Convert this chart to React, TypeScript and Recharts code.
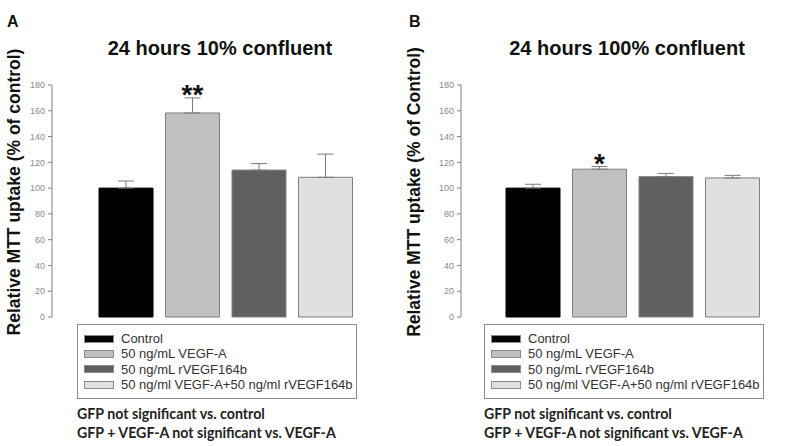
import React from "react";
import { BarChart, Bar, XAxis, YAxis, Cell, ErrorBar, LabelList } from "recharts";

// treatment groups (same in both panels)
const categories = ["Control", "50 ng/mL VEGF-A", "50 ng/mL rVEGF164b", "50 ng/ml VEGF-A+50 ng/ml rVEGF164b"];
const barColors = ["#000000", "#c0c0c0", "#606060", "#e0e0e0"];

// panel A: 24 h, 10% confluent
const sparseMeans = [100, 158.3, 114, 108.4];
const sparseErrors = [5.5, 11.7, 5, 18];
const sparseSig = ["", "**", "", ""];

// panel B: 24 h, 100% confluent
const denseMeans = [100, 114.7, 108.9, 107.9];
const denseErrors = [3, 2, 2.5, 2];
const denseSig = ["", "*", "", ""];

const yTicks = [0, 20, 40, 60, 80, 100, 120, 140, 160, 180];

const notes = ["GFP not significant vs. control", "GFP + VEGF-A not significant vs. VEGF-A"];

const buildRows = (means: number[], errs: number[], sig: string[]) =>
  categories.map((name, i) => ({ name, value: means[i], err: [0, errs[i]], sig: sig[i] }));

const sans = "'Liberation Sans', Arial, sans-serif";

function Panel({ data, left, width, padLeft, sigOffset }: any) {
  return (
    <div style={{ position: "absolute", left, top: 0 }}>
      <BarChart width={width} height={446} data={data} margin={{ top: 85, right: 15, bottom: 129, left: 0 }}>
        <XAxis
          dataKey="name"
          tick={false}
          tickLine={false}
          height={0}
          axisLine={{ stroke: "#808080" }}
          padding={{ left: padLeft, right: 26 }}
        />
        <YAxis
          width={52}
          domain={[0, 180]}
          ticks={yTicks}
          interval={0}
          tickSize={4}
          tickMargin={3}
          axisLine={{ stroke: "#808080" }}
          tickLine={{ stroke: "#808080" }}
          tick={{ fontSize: 9, fill: "#8a8a8a", fontFamily: sans }}
        />
        <Bar dataKey="value" barSize={54} stroke="#808080" isAnimationActive={false}>
          {data.map((d: any, i: number) => (
            <Cell key={d.name} fill={barColors[i]} stroke={i === 0 ? "#000" : "#808080"} />
          ))}
          <ErrorBar dataKey="err" width={8} stroke="#7a7a7a" strokeWidth={1} direction="y" />
          <LabelList
            dataKey="sig"
            position="top"
            offset={sigOffset}
            style={{ fontSize: 28, fontWeight: 700, fill: "#111", fontFamily: sans }}
          />
        </Bar>
      </BarChart>
    </div>
  );
}

function LegendBox({ left }: any) {
  return (
    <div
      style={{
        position: "absolute",
        left,
        top: 324,
        width: 278,
        height: 73,
        border: "1px solid #8a8a8a",
      }}
    >
      {categories.map((c, i) => (
        <div
          key={c}
          style={{
            position: "absolute",
            left: 6,
            top: 6 + i * 15.3,
            height: 15.3,
            display: "flex",
            alignItems: "center",
            fontFamily: sans,
            fontSize: 13,
            color: "#333",
            whiteSpace: "nowrap",
          }}
        >
          <span
            style={{
              display: "inline-block",
              width: 28,
              height: 6,
              background: barColors[i],
              border: "1px solid #8a8a8a",
              marginRight: 7,
            }}
          />
          {c}
        </div>
      ))}
    </div>
  );
}

function Notes({ left }: any) {
  return (
    <>
      {notes.map((n, i) => (
        <div
          key={n}
          style={{
            position: "absolute",
            left,
            top: 405 + i * 19,
            fontFamily: "Lato, 'Open Sans', sans-serif",
            fontWeight: 700,
            fontSize: 14.2,
            color: "#222",
            whiteSpace: "nowrap",
            lineHeight: "18px",
          }}
        >
          {n}
        </div>
      ))}
    </>
  );
}

export default function App() {
  const sparse = buildRows(sparseMeans, sparseErrors, sparseSig);
  const dense = buildRows(denseMeans, denseErrors, denseSig);
  return (
    <div style={{ position: "absolute", left: 0, top: 0, width: 800, height: 446, background: "#fff", overflow: "hidden" }}>
      <Panel data={sparse} left={0} width={400} padLeft={41} sigOffset={9} />
      <Panel data={dense} left={409} width={398} padLeft={39} sigOffset={-4} />
      <svg width={800} height={446} style={{ position: "absolute", left: 0, top: 0, pointerEvents: "none" }}>
        <g fontFamily={sans} fontWeight={700} fill="#111">
          <text x={7} y={27} fontSize={16}>A</text>
          <text x={409} y={27} fontSize={16}>B</text>
          <text x={220} y={55} fontSize={20} textAnchor="middle">24 hours 10% confluent</text>
          <text x={627} y={55} fontSize={20} textAnchor="middle">24 hours 100% confluent</text>
          <text transform="translate(20,192) rotate(-90)" fontSize={17.5} textAnchor="middle">
            Relative MTT uptake (% of control)
          </text>
          <text transform="translate(420,192) rotate(-90)" fontSize={17.5} textAnchor="middle">
            Relative MTT uptake (% of Control)
          </text>
        </g>
      </svg>
      <LegendBox left={77} />
      <LegendBox left={484} />
      <Notes left={77} />
      <Notes left={484} />
    </div>
  );
}
